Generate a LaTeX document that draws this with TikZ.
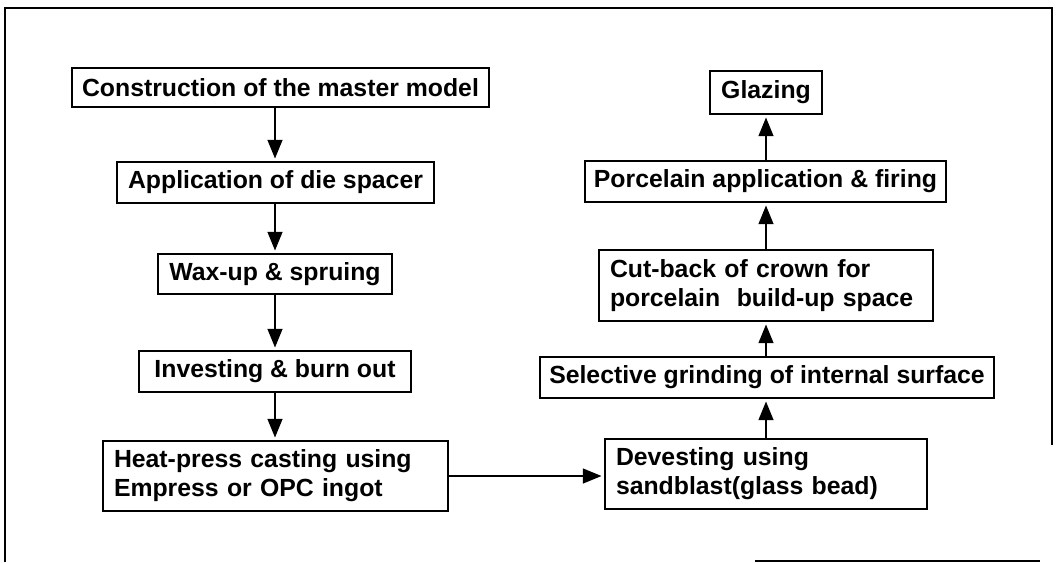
\documentclass[tikz,border=0pt]{standalone}
\usepackage{fontspec}
\setmainfont{Liberation Sans}
\usetikzlibrary{arrows.meta}
\begin{document}
\begin{tikzpicture}[x=0.75pt,y=-0.75pt,
  box/.style={draw,line width=1.1pt,inner sep=0pt,font=\fontsize{18.6}{21.75}\selectfont\bfseries},
  arr/.style={line width=1.6pt,-{Triangle[length=14pt,width=11pt]},shorten >=2pt},
  frame/.style={line width=1.5pt}]
\useasboundingbox (0,0) rectangle (1060,562);
% outer frame (as scanned)
\draw[frame] (5,562) -- (5,8) -- (1052,8) -- (1052,445);
\draw[frame] (755,561) -- (1040,561);
% left column
\node[box,minimum width=312.75pt,minimum height=29.25pt] (b1) at (280.5,87.5) {Construction of the master model};
\node[box,minimum width=237.75pt,minimum height=30.75pt] (b2) at (275.5,182.5) {Application of die spacer};
\node[box,minimum width=175.5pt,minimum height=30pt] (b3) at (275,274) {Wax-up \& spruing};
\node[box,minimum width=204pt,minimum height=30.75pt] (b4) at (275,371.5) {Investing \& burn out};
\node[box,minimum width=258.75pt,minimum height=52.5pt,text width=242.25pt,align=left] (b5) at (275.5,476) {Heat-press casting using\\Empress or OPC ingot};
% right column
\node[box,minimum width=241.5pt,minimum height=52.5pt,text width=225pt,align=left] (b6) at (766,474) {Devesting using\\sandblast(glass bead)};
\node[box,minimum width=340.5pt,minimum height=30.75pt] (b7) at (767,377.5) {Selective grinding of internal surface};
\node[box,minimum width=250.5pt,minimum height=53.25pt,text width=234pt,align=left] (b8) at (766,285.5) {Cut-back of crown for\\porcelain\ \ build-up space};
\node[box,minimum width=270.75pt,minimum height=30.75pt] (b9) at (765.5,181.5) {Porcelain application \& firing};
\node[box,minimum width=84pt,minimum height=32.25pt] (b10) at (766,92.5) {Glazing};
% arrows left column
\draw[arr] (b1.south -| b3) -- (b2.north -| b3);
\draw[arr] (b2.south -| b3) -- (b3.north);
\draw[arr] (b3.south) -- (b4.north -| b3);
\draw[arr] (b4.south -| b3) -- (b5.north -| b3);
% horizontal
\draw[arr] (b5.east) -- (b5.east -| b6.west);
% arrows right column
\draw[arr] (b6.north) -- (b7.south -| b6);
\draw[arr] (b7.north -| b6) -- (b8.south -| b6);
\draw[arr] (b8.north -| b6) -- (b9.south -| b6);
\draw[arr] (b9.north -| b6) -- (b10.south -| b6);
\end{tikzpicture}
\end{document}
